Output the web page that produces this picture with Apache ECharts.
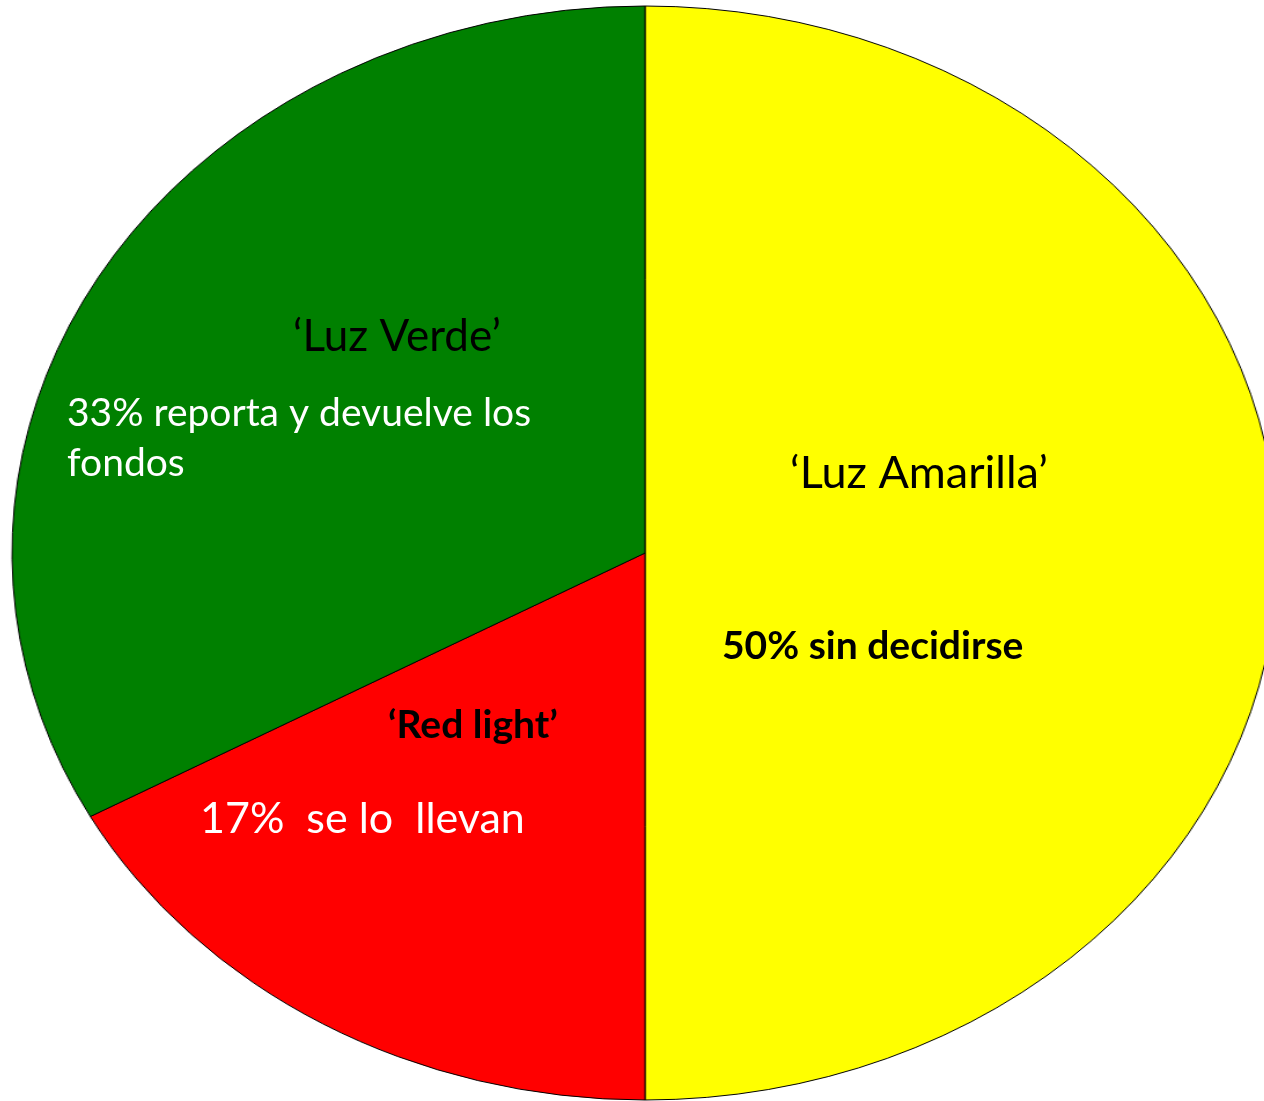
<!DOCTYPE html>
<html>
<head>
<meta charset="utf-8">
<script src="https://cdn.jsdelivr.net/npm/echarts@6/dist/echarts.min.js"></script>
<style>
  html, body { margin: 0; padding: 0; background: #fff; }
  #wrap { position: relative; width: 1264px; height: 1101px; overflow: hidden; }
  /* pie is drawn round, then stretched sideways into the ellipse */
  #pie { position: absolute; left: 93px; top: 1px; width: 1104px; height: 1104px;
         transform: scaleX(1.1572); transform-origin: 50% 50%; }
  #labels { position: absolute; left: 0; top: 0; width: 1264px; height: 1101px; pointer-events: none; }
</style>
</head>
<body>
<div id="wrap">
  <div id="pie"></div>
  <div id="labels"></div>
</div>
<script>
// datos
var names = ['Luz Amarilla', 'Red light', 'Luz Verde'];
var values = [50, 17, 33];
var colors = ['#FFFF00', '#FF0000', '#008000'];

var pieChart = echarts.init(document.getElementById('pie'));
pieChart.setOption({
  animation: false,
  series: [{
    type: 'pie',
    center: ['50%', '50%'],
    radius: [0, 547],
    startAngle: 90,
    clockwise: true,
    silent: true,
    label: { show: false },
    labelLine: { show: false },
    itemStyle: { borderColor: '#000', borderWidth: 1 },
    data: names.map(function (n, i) {
      return { name: n, value: values[i], itemStyle: { color: colors[i] } };
    })
  }]
});

// textos encima del pastel
var fontFam = 'Lato, "Open Sans", sans-serif';
function txt(x, y, s, size, color, weight) {
  return {
    type: 'text', left: x, top: y,
    style: { text: s, fill: color, font: (weight || 'normal') + ' ' + size + 'px ' + fontFam }
  };
}
var labelChart = echarts.init(document.getElementById('labels'));
labelChart.setOption({
  animation: false,
  graphic: [
    txt(293, 315, '\u2018Luz Verde\u2019', 44, '#000'),
    txt(67, 394, '33% reporta y devuelve los', 39, '#fff'),
    txt(67, 444, 'fondos', 39, '#fff'),
    txt(790, 451, '\u2018Luz Amarilla\u2019', 45, '#000'),
    txt(722, 627, '50% sin decidirse', 39, '#000', 'bold'),
    txt(388, 706, '\u2018Red light\u2019', 39, '#000', 'bold'),
    txt(200, 798, '17%  se lo  llevan', 43, '#fff')
  ]
});
</script>
</body>
</html>
